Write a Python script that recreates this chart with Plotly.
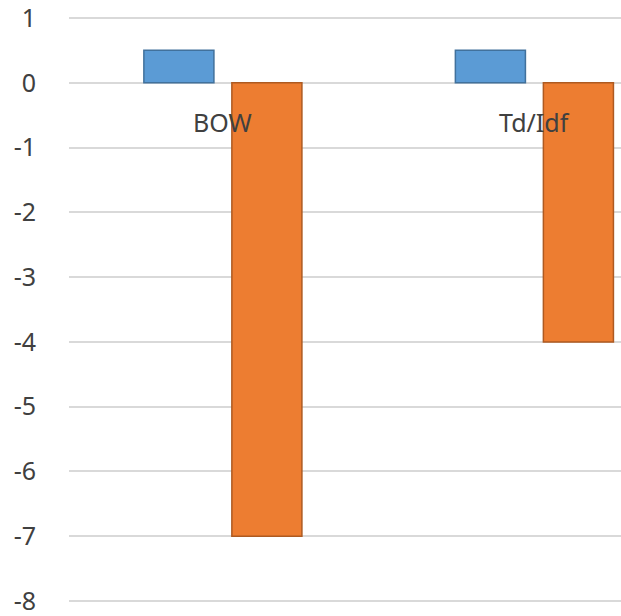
import plotly.graph_objects as go

# Chart data
categories = ["BOW", "Td/Idf"]
series_a = [0.5, 0.5]
series_b = [-7, -4]
y_ticks = [1, 0, -1, -2, -3, -4, -5, -6, -7, -8]

fig = go.Figure()
fig.add_trace(go.Bar(
    x=categories, y=series_a, name="Series 1",
    marker=dict(color="#5B9BD5", line=dict(color="#41719C", width=1.5)),
))
fig.add_trace(go.Bar(
    x=categories, y=series_b, name="Series 2",
    marker=dict(color="#ED7D31", line=dict(color="#AE5A21", width=1.5)),
))

label_font = dict(family="Noto Sans, Open Sans, sans-serif", size=25, color="#404040")

# Category labels sit just under the zero line
for cat in categories:
    fig.add_annotation(x=cat, y=0, yshift=-39, yanchor="middle", xanchor="center",
                       text=cat, showarrow=False, font=label_font)

fig.update_layout(
    width=621, height=616,
    margin=dict(l=69, r=0, t=8, b=5),
    paper_bgcolor="white", plot_bgcolor="white",
    barmode="group", bargap=0.435, bargroupgap=0.204,
    showlegend=False,
    xaxis=dict(range=[-0.494, 1.278], showticklabels=False, showgrid=False,
               zeroline=False, showline=False, ticks=""),
    yaxis=dict(range=[-8.154, 1.154], tickvals=y_ticks,
               ticktext=[str(v) for v in y_ticks],
               showgrid=True, gridcolor="#D9D9D9", gridwidth=2,
               zeroline=True, zerolinecolor="#D9D9D9", zerolinewidth=2,
               showline=False, ticks="", ticklabelstandoff=32,
               ticklabeloverflow="allow", tickfont=label_font),
)

fig.write_html("out.html")
